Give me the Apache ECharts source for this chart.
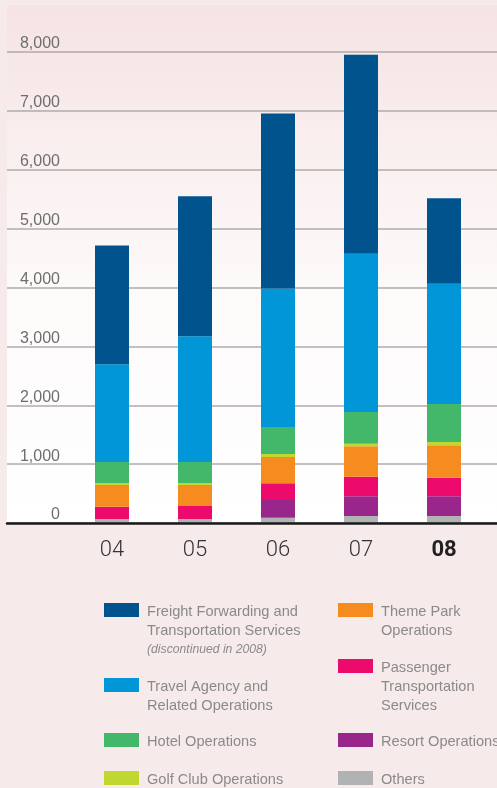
<!DOCTYPE html>
<html>
<head>
<meta charset="utf-8">
<script src="https://cdn.jsdelivr.net/npm/echarts@6/dist/echarts.min.js"></script>
<style>
html,body{margin:0;padding:0;background:#f7eaea;}
#c{width:497px;height:788px;}
</style>
</head>
<body>
<div id="c"></div>
<script>
// ---- data ----
var categories = ['04', '05', '06', '07', '08'];
var yTicks = [0, 1000, 2000, 3000, 4000, 5000, 6000, 7000, 8000];
var others    = [68, 68, 90, 119, 119];
var resort    = [0, 0, 300, 334, 334];
var passenger = [209, 221, 284, 334, 316];
var themePark = [368, 357, 447, 515, 550];
var golf      = [34, 34, 51, 45, 56];
var hotel     = [357, 357, 458, 538, 645];
var travel    = [1659, 2134, 2355, 2688, 2042];
var freight   = [2020, 2377, 2971, 3379, 1455];

var seriesNames = ['Others', 'Resort Operations', 'Passenger Transportation Services', 'Theme Park Operations',
  'Golf Club Operations', 'Hotel Operations', 'Travel Agency and Related Operations',
  'Freight Forwarding and Transportation Services'];
var seriesData = [others, resort, passenger, themePark, golf, hotel, travel, freight];
var colors = ['#b1b2b4', '#98268b', '#ec0b6d', '#f68c20', '#bfd72f', '#43b86a', '#0096d8', '#00538d'];

var legendText = {
  'Freight Forwarding and Transportation Services': '{a|Freight Forwarding and}\n{a|Transportation Services}\n{b|(discontinued in 2008)}',
  'Travel Agency and Related Operations': '{a|Travel Agency and}\n{a|Related Operations}',
  'Hotel Operations': '{a|Hotel Operations}',
  'Golf Club Operations': '{a|Golf Club Operations}',
  'Theme Park Operations': '{a|Theme Park}\n{a|Operations}',
  'Passenger Transportation Services': '{a|Passenger}\n{a|Transportation}\n{a|Services}',
  'Resort Operations': '{a|Resort Operations}',
  'Others': '{a|Others}'
};

var FONT = '"Liberation Sans", Arial, sans-serif';
var LH = 19;
var SHIFT = 3; // extra top padding: moves text down SHIFT/2 relative to the swatch

var chart = echarts.init(document.getElementById('c'), null, {renderer: 'canvas'});

var legendLayout = [
  ['Freight Forwarding and Transportation Services', 104, 603, 3],
  ['Travel Agency and Related Operations', 104, 678, 2],
  ['Hotel Operations', 104, 733, 1],
  ['Golf Club Operations', 104, 771, 1],
  ['Theme Park Operations', 338, 603, 2],
  ['Passenger Transportation Services', 338, 659, 3],
  ['Resort Operations', 338, 733, 1],
  ['Others', 338, 771, 1]
];

var legends = legendLayout.map(function (l) {
  var pad = (l[3] - 1) * LH + SHIFT;
  return {
    data: [l[0]],
    left: l[1],
    top: l[2] + 7 - (l[3] * LH + pad) / 2,
    padding: 0,
    itemWidth: 35,
    itemHeight: 14,
    icon: 'rect',
    selectedMode: false,
    formatter: function (n) { return legendText[n]; },
    textStyle: {
      fontFamily: FONT,
      fontSize: 14.6,
      lineHeight: LH,
      color: '#8a8a8a',
      padding: [pad, 0, 0, 3],
      rich: {
        a: {fontFamily: FONT, fontSize: 14.6, lineHeight: LH, color: '#8a8a8a'},
        b: {fontFamily: FONT, fontSize: 12.2, lineHeight: LH, fontStyle: 'italic', color: '#8a8a8a'}
      }
    }
  };
});

var series = seriesNames.map(function (name, i) {
  return {
    name: name,
    type: 'bar',
    stack: 'total',
    xAxisIndex: 1,
    yAxisIndex: 1,
    barWidth: 34,
    data: seriesData[i],
    itemStyle: {color: colors[i]},
    emphasis: {disabled: true}
  };
});

chart.setOption({
  animation: false,
  color: colors,
  graphic: [{
    type: 'rect',
    left: 7, top: 5,
    shape: {width: 490, height: 518},
    style: {
      fill: new echarts.graphic.LinearGradient(0, 0, 0, 1, [
        {offset: 0, color: '#f6e3e3'},
        {offset: 0.55, color: '#fdfafa'},
        {offset: 1, color: '#ffffff'}
      ])
    },
    z: -10,
    silent: true
  }],
  legend: legends,
  grid: [
    {left: 7, right: 0, top: 52, bottom: 265},
    {left: 70.5, right: 11.5, top: 52, bottom: 265}
  ],
  xAxis: [
    {
      gridIndex: 0, type: 'category', data: categories,
      axisLine: {show: true, lineStyle: {color: '#1a1a1a', width: 2.5}},
      axisTick: {show: false}, axisLabel: {show: false}, splitLine: {show: false},
      z: 5
    },
    {
      gridIndex: 1, type: 'category', data: categories,
      axisLine: {show: false}, axisTick: {show: false},
      axisLabel: {
        margin: 16.5,
        fontFamily: 'Roboto, ' + FONT,
        fontSize: 22,
        fontWeight: 300,
        color: '#333333',
        formatter: function (v) { return v === '08' ? '{b|' + v + '}' : v; },
        rich: {b: {fontFamily: 'Roboto, ' + FONT, fontSize: 22, fontWeight: 'bold', color: '#222222'}}
      }
    }
  ],
  yAxis: [
    {
      gridIndex: 0, type: 'value', min: yTicks[0], max: yTicks[yTicks.length - 1], interval: 1000,
      axisLine: {show: false}, axisTick: {show: false},
      splitLine: {show: true, lineStyle: {color: '#acacac', width: 1.5}},
      axisLabel: {
        inside: true, align: 'right', margin: 53, verticalAlign: 'bottom',
        padding: [0, 0, 0, 0],
        fontFamily: FONT, fontSize: 16, color: '#6e6e6e',
        formatter: function (v) { return v.toLocaleString('en-US'); }
      }
    },
    {
      gridIndex: 1, type: 'value', min: yTicks[0], max: yTicks[yTicks.length - 1], interval: 1000,
      show: false, splitLine: {show: false}
    }
  ],
  series: series
});
</script>
</body>
</html>
